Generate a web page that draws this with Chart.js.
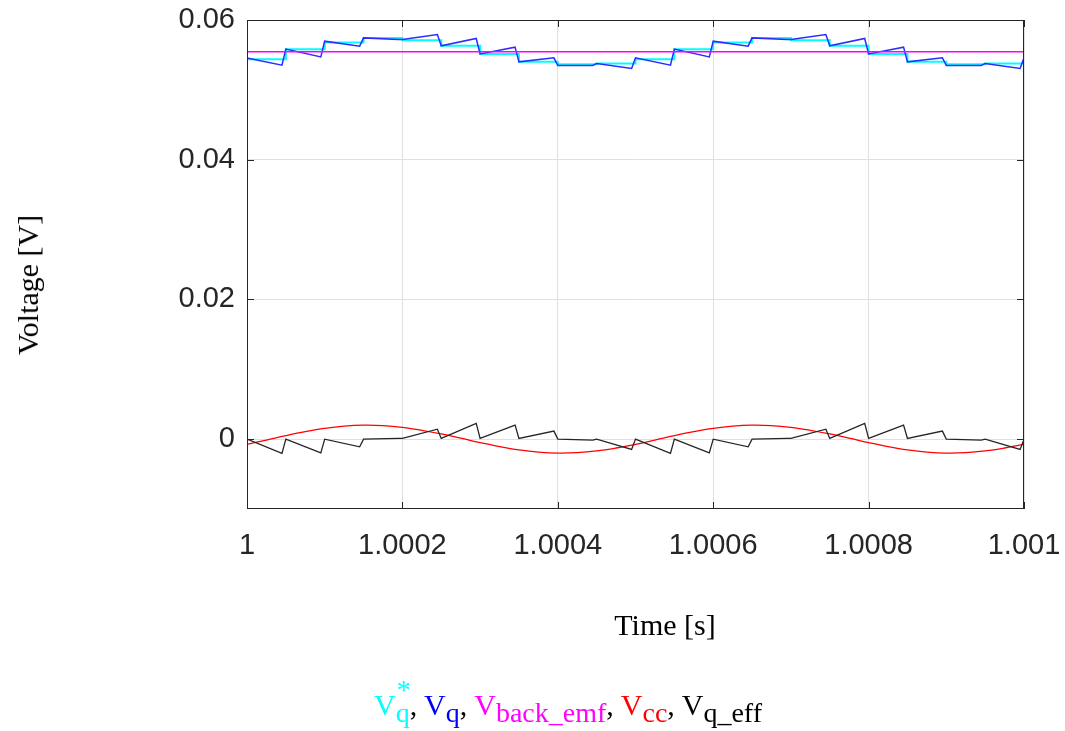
<!DOCTYPE html>
<html>
<head>
<meta charset="utf-8">
<script src="https://cdn.jsdelivr.net/npm/chart.js@4.4.0/dist/chart.umd.min.js"></script>
<style>
  body { margin: 0; background: #fff; }
  #wrap { position: relative; width: 1065px; height: 731px; }
  .serif { font-family: 'Liberation Serif', 'Times New Roman', serif; color: #000; position: absolute; white-space: nowrap; line-height: 1; }
  #ytitle { left: 28px; top: 285px; font-size: 30px; transform: translate(-50%, -50%) rotate(-90deg); }
  #xtitle { left: 665px; top: 610px; font-size: 30px; transform: translateX(-50%); }
  #legend { left: 568px; top: 690px; font-size: 30px; transform: translateX(-50%); }
  .sub { font-size: 28px; position: relative; top: 7px; display: inline-block; }
  .star { position: absolute; left: 1px; top: -23px; font-size: 28px; }
</style>
</head>
<body>
<div id="wrap">
  <canvas id="myChart" width="1065" height="731"></canvas>
  <div id="ytitle" class="serif">Voltage [V]</div>
  <div id="xtitle" class="serif">Time [s]</div>
  <div id="legend" class="serif"><span style="color:#00ffff">V<span class="sub">q<span class="star">*</span></span></span>, <span style="color:#0000ff">V<span class="sub">q</span></span>, <span style="color:#ff00ff">V<span class="sub">back_emf</span></span>, <span style="color:#ff0000">V<span class="sub">cc</span></span>, V<span class="sub">q_eff</span></div>
</div>
<script>
// sample instants: start of each 50us period and the end of its ramp
const sampleTimes = [1, 1.000045, 1.00005, 1.000095, 1.0001, 1.000145, 1.00015, 1.000195, 1.0002, 1.000245,
  1.00025, 1.000295, 1.0003, 1.000345, 1.00035, 1.000395, 1.0004, 1.000445, 1.00045, 1.000495,
  1.0005, 1.000545, 1.00055, 1.000595, 1.0006, 1.000645, 1.00065, 1.000695, 1.0007, 1.000745,
  1.00075, 1.000795, 1.0008, 1.000845, 1.00085, 1.000895, 1.0009, 1.000945, 1.00095, 1.000995, 1.001];
const vq = [0.05458, 0.05354, 0.05583, 0.05472, 0.05697, 0.05626, 0.05744, 0.05722, 0.05722, 0.05793,
  0.05630, 0.05736, 0.05515, 0.05611, 0.05401, 0.05458, 0.05349, 0.05349, 0.05378, 0.05306,
  0.05458, 0.05354, 0.05583, 0.05472, 0.05697, 0.05626, 0.05744, 0.05722, 0.05722, 0.05793,
  0.05630, 0.05736, 0.05515, 0.05611, 0.05401, 0.05458, 0.05349, 0.05349, 0.05378, 0.05306, 0.05458];
const vqEff = [0, -0.00205, 0, -0.00196, 0, -0.0011, 0, 0.0001, 0.0001, 0.00143,
  0.0001, 0.00225, 0.0001, 0.002, 0.0001, 0.00115, 0, -0.00014, 0, -0.00147,
  0, -0.00205, 0, -0.00196, 0, -0.0011, 0, 0.0001, 0.0001, 0.00143,
  0.0001, 0.00225, 0.0001, 0.002, 0.0001, 0.00115, 0, -0.00014, 0, -0.00147, 0];

// reference voltage, held over each period
const stepTimes = [1, 1.00005, 1.0001, 1.00015, 1.0002, 1.00025, 1.0003, 1.00035, 1.0004, 1.00045, 1.0005,
  1.00055, 1.0006, 1.00065, 1.0007, 1.00075, 1.0008, 1.00085, 1.0009, 1.00095, 1.001];
const vqRef = [0.05439, 0.05583, 0.05678, 0.05744, 0.05711, 0.05630, 0.05515, 0.05401, 0.05368, 0.05378,
  0.05439, 0.05583, 0.05678, 0.05744, 0.05711, 0.05630, 0.05515, 0.05401, 0.05368, 0.05378, 0.05439];

// cross coupling term
const ccTimes = [1, 1.000025, 1.00005, 1.000075, 1.0001, 1.000125, 1.00015, 1.000175, 1.0002, 1.000225,
  1.00025, 1.000275, 1.0003, 1.000325, 1.00035, 1.000375, 1.0004, 1.000425, 1.00045, 1.000475,
  1.0005, 1.000525, 1.00055, 1.000575, 1.0006, 1.000625, 1.00065, 1.000675, 1.0007, 1.000725,
  1.00075, 1.000775, 1.0008, 1.000825, 1.00085, 1.000875, 1.0009, 1.000925, 1.00095, 1.000975, 1.001];
const vcc = [-0.00074, -0.00013, 0.00050, 0.00107, 0.00154, 0.00186, 0.00200, 0.00194, 0.00169, 0.00127,
  0.00074, 0.00013, -0.00050, -0.00107, -0.00154, -0.00186, -0.00200, -0.00194, -0.00169, -0.00127,
  -0.00074, -0.00013, 0.00050, 0.00107, 0.00154, 0.00186, 0.00200, 0.00194, 0.00169, 0.00127,
  0.00074, 0.00013, -0.00050, -0.00107, -0.00154, -0.00186, -0.00200, -0.00194, -0.00169, -0.00127, -0.00074];

const bemfTimes = [1, 1.001];
const vBemf = [0.05544, 0.05544];

const xTicks = [1, 1.0002, 1.0004, 1.0006, 1.0008, 1.001];
const xTickLabels = ['1', '1.0002', '1.0004', '1.0006', '1.0008', '1.001'];
const yTicks = [0, 0.02, 0.04, 0.06];
const yTickLabels = ['0', '0.02', '0.04', '0.06'];

function pts(times, vals) {
    return times.map((t, i) => ({x: t, y: vals[i]}));
}

// fixed axis sizes, no extra room for overhanging labels
function fixSize(s, w, h) {
    if (w) s.width = w;
    if (h) s.height = h;
    s.paddingLeft = s.paddingRight = s.paddingTop = s.paddingBottom = 0;
}

// MATLAB style box with inward tick marks
const frame = {
    id: 'frame',
    afterDatasetsDraw(chart) {
        const ctx = chart.ctx, a = chart.chartArea;
        const sx = chart.scales.x, sy = chart.scales.y;
        ctx.save();
        ctx.strokeStyle = '#262626';
        ctx.lineWidth = 1;
        ctx.strokeRect(a.left + 0.5, a.top + 0.5, a.right - a.left - 1, a.bottom - a.top - 1);
        ctx.beginPath();
        sx.ticks.forEach(t => {
            const px = Math.round(sx.getPixelForValue(t.value)) + 0.5;
            ctx.moveTo(px, a.top); ctx.lineTo(px, a.top + 7);
            ctx.moveTo(px, a.bottom); ctx.lineTo(px, a.bottom - 7);
        });
        sy.ticks.forEach(t => {
            const py = Math.round(sy.getPixelForValue(t.value)) + 0.5;
            ctx.moveTo(a.left, py); ctx.lineTo(a.left + 7, py);
            ctx.moveTo(a.right, py); ctx.lineTo(a.right - 7, py);
        });
        ctx.stroke();
        ctx.restore();
    }
};

const tickFont = {family: "'Liberation Sans', Arial, sans-serif", size: 29};

var ctx = document.getElementById('myChart');
const chart = new Chart(ctx, {
    type: 'line',
    data: {
        datasets: [
            {label: 'Vq*', data: pts(stepTimes, vqRef), borderColor: '#00ffff', borderWidth: 2, stepped: true, order: 5},
            {label: 'Vq', data: pts(sampleTimes, vq), borderColor: '#2b2bff', borderWidth: 1.5, order: 4},
            {label: 'Vback_emf', data: pts(bemfTimes, vBemf), borderColor: '#ff00ff', borderWidth: 1.5, order: 3},
            {label: 'Vcc', data: pts(ccTimes, vcc), borderColor: '#ff0000', borderWidth: 1.3, tension: 0.4, order: 2},
            {label: 'Vq_eff', data: pts(sampleTimes, vqEff), borderColor: '#262626', borderWidth: 1.3, order: 1}
        ]
    },
    options: {
        responsive: false,
        animation: false,
        elements: {point: {radius: 0}},
        layout: {padding: {top: 20, right: 41, left: 0, bottom: 0}},
        plugins: {legend: {display: false}, tooltip: {enabled: false}},
        scales: {
            x: {
                type: 'linear', min: 1, max: 1.001,
                afterBuildTicks: s => { s.ticks = xTicks.map(v => ({value: v})); },
                afterFit: s => fixSize(s, 0, 222),
                ticks: {autoSkip: false, maxRotation: 0, padding: 20, color: '#262626', font: tickFont,
                    callback: (v, i) => xTickLabels[i]},
                grid: {color: '#e0e0e0', drawTicks: false},
                border: {display: false}
            },
            y: {
                min: -0.01, max: 0.06,
                afterBuildTicks: s => { s.ticks = yTicks.map(v => ({value: v})); },
                afterFit: s => fixSize(s, 247, 0),
                ticks: {padding: 12, color: '#262626', font: tickFont,
                    callback: (v, i) => yTickLabels[i]},
                grid: {color: '#e0e0e0', drawTicks: false},
                border: {display: false}
            }
        }
    },
    plugins: [frame]
});
</script>
</body>
</html>
